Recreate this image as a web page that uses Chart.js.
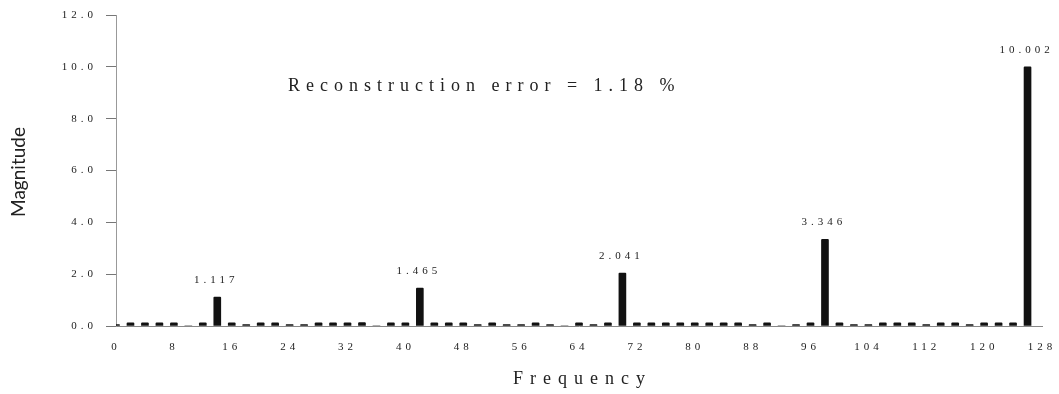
<!DOCTYPE html>
<html>
<head>
<meta charset="utf-8">
<script src="https://cdn.jsdelivr.net/npm/chart.js@4.4.0/dist/chart.umd.min.js"></script>
<style>
  body { margin: 0; background: #fff; }
  #wrap { width: 1059px; height: 394px; position: relative; }
</style>
</head>
<body>
<div id="wrap"><canvas id="espectro"></canvas></div>
<script>
// ---- datos ----
const frecuencias = [0, 2, 4, 6, 8, 10, 12, 14, 16, 18, 20, 22, 24, 26, 28, 30,
  32, 34, 36, 38, 40, 42, 44, 46, 48, 50, 52, 54, 56, 58, 60, 62,
  64, 66, 68, 70, 72, 74, 76, 78, 80, 82, 84, 86, 88, 90, 92, 94,
  96, 98, 100, 102, 104, 106, 108, 110, 112, 114, 116, 118, 120, 122, 124, 126];
const magnitudes = [0.05, 0.12, 0.12, 0.12, 0.12, 0, 0.12, 1.117, 0.12, 0.05, 0.12, 0.12, 0.05, 0.05, 0.12, 0.12,
  0.12, 0.13, 0, 0.12, 0.12, 1.465, 0.12, 0.12, 0.12, 0.05, 0.12, 0.05, 0.05, 0.12, 0.05, 0,
  0.12, 0.05, 0.12, 2.041, 0.12, 0.12, 0.12, 0.12, 0.12, 0.12, 0.12, 0.12, 0.05, 0.12, 0, 0.05,
  0.12, 3.346, 0.12, 0.05, 0.05, 0.12, 0.12, 0.12, 0.05, 0.12, 0.12, 0.05, 0.12, 0.12, 0.12, 10.002];
const ticksX = [0, 8, 16, 24, 32, 40, 48, 56, 64, 72, 80, 88, 96, 104, 112, 120, 128];
const ticksY = [0, 2, 4, 6, 8, 10, 12];
const textoError = "Reconstruction error = 1.18 %";

const serif = "'Liberation Serif', 'Times New Roman', serif";

// textos extra: valores de los picos, nota de error y títulos
const textosExtra = {
  id: "textosExtra",
  beforeDraw(chart) {
    chart.ctx.letterSpacing = "4px";
  },
  afterDraw(chart) {
    const ctx = chart.ctx;
    const meta = chart.getDatasetMeta(0);
    ctx.save();
    ctx.fillStyle = "#222";
    ctx.textBaseline = "middle";

    // valores de los picos
    ctx.textAlign = "center";
    ctx.font = "11px " + serif;
    ctx.letterSpacing = "4px";
    magnitudes.forEach((v, i) => {
      if (v < 1) return;
      const el = meta.data[i];
      ctx.fillText(v.toFixed(3), el.x - 1, el.y - 17);
    });

    // nota de error
    ctx.textAlign = "left";
    ctx.font = "18px " + serif;
    ctx.letterSpacing = "6px";
    ctx.fillText(textoError, 288, 86);

    // título eje x
    ctx.letterSpacing = "7px";
    ctx.fillText("Frequency", 513, 379);

    // título eje y
    ctx.textAlign = "center";
    ctx.letterSpacing = "0px";
    ctx.font = "19px Lato, 'Open Sans', sans-serif";
    ctx.translate(19, 172);
    ctx.rotate(-Math.PI / 2);
    ctx.fillText("Magnitude", 0, 0);
    ctx.restore();
    ctx.letterSpacing = "0px";
  }
};

new Chart(document.getElementById("espectro"), {
  type: "bar",
  data: {
    datasets: [{
      data: frecuencias.map((f, i) => ({ x: f, y: magnitudes[i] })),
      backgroundColor: "#111",
      barThickness: 7,
      borderRadius: 1,
    }]
  },
  options: {
    responsive: true,
    maintainAspectRatio: false,
    animation: false,
    layout: { padding: { left: 0, right: 17, top: 15, bottom: 0 } },
    plugins: {
      legend: { display: false },
      tooltip: { enabled: false },
    },
    scales: {
      x: {
        type: "linear",
        min: 0,
        max: 128,
        offset: false,
        afterBuildTicks: (s) => { s.ticks = ticksX.map(v => ({ value: v })); },
        afterFit: (s) => { s.height = 68; s.paddingLeft = 0; s.paddingRight = 0; },
        grid: { display: false, drawTicks: false },
        border: { color: "#888", width: 1 },
        ticks: {
          color: "#222",
          padding: 15,
          maxRotation: 0,
          autoSkip: false,
          font: { family: serif, size: 11 },
        },
      },
      y: {
        min: 0,
        max: 12,
        afterBuildTicks: (s) => { s.ticks = ticksY.map(v => ({ value: v })); },
        afterFit: (s) => { s.width = 116; s.paddingTop = 0; s.paddingBottom = 0; },
        grid: { drawOnChartArea: false, tickLength: 10, color: "#777" },
        border: { color: "#999", width: 1 },
        ticks: {
          color: "#222",
          padding: 9,
          font: { family: serif, size: 11 },
          callback: (v) => v.toFixed(1),
        },
      },
    },
  },
  plugins: [textosExtra],
});
</script>
</body>
</html>
